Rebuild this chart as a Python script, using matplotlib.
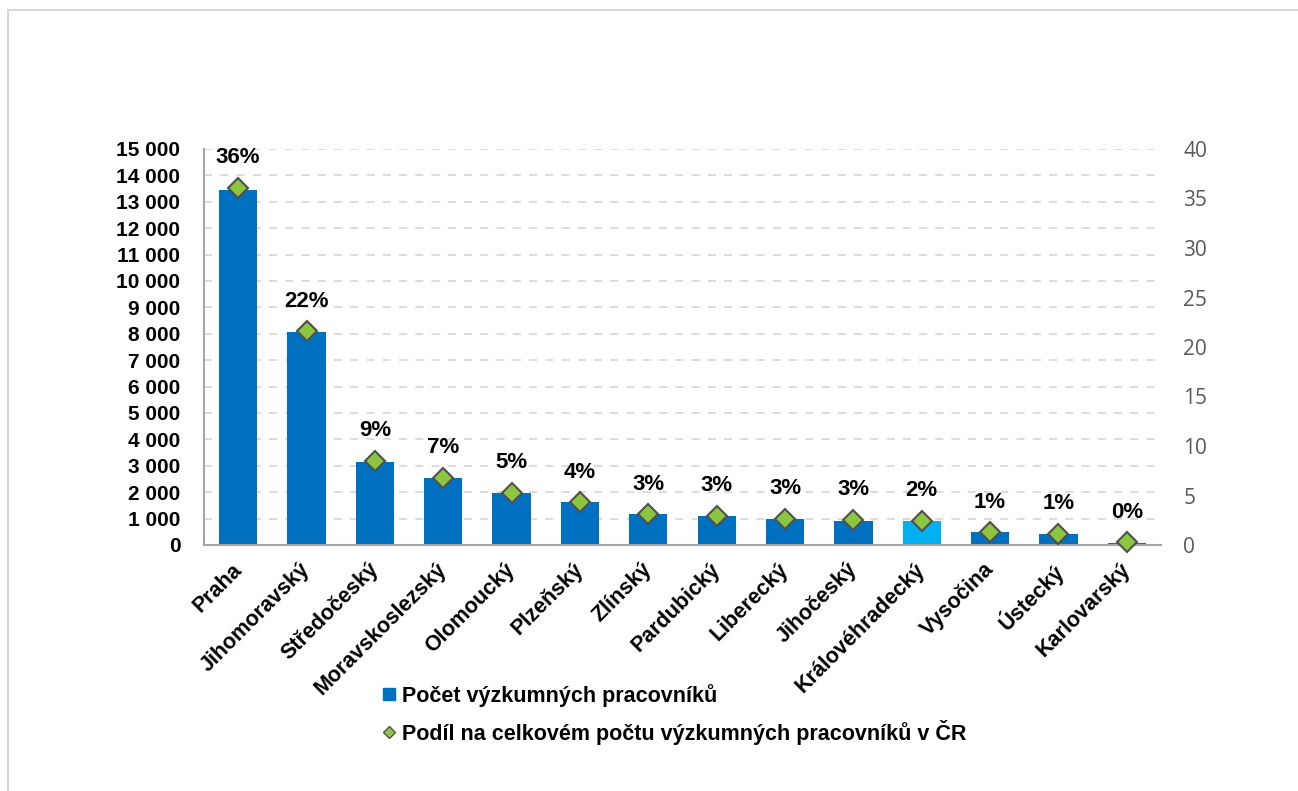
import matplotlib
matplotlib.use("Agg")
import matplotlib.pyplot as plt
from matplotlib.ticker import FuncFormatter, MultipleLocator
from matplotlib.patches import Rectangle
from matplotlib.lines import Line2D
from matplotlib.transforms import ScaledTranslation

plt.rcParams['font.family'] = ['Liberation Sans', 'DejaVu Sans']

regions = ["Praha", "Jihomoravský", "Středočeský", "Moravskoslezský", "Olomoucký",
           "Plzeňský", "Zlínský", "Pardubický", "Liberecký", "Jihočeský",
           "Královéhradecký", "Vysočina", "Ústecký", "Karlovarský"]
researchers = [13450, 8070, 3150, 2540, 1980, 1620, 1180, 1110, 990, 920, 920, 480, 420, 80]
share = [36.1, 21.6, 8.5, 6.8, 5.3, 4.3, 3.1, 2.95, 2.65, 2.55, 2.45, 1.3, 1.15, 0.27]
share_labels = ["36%", "22%", "9%", "7%", "5%", "4%", "3%", "3%", "3%", "3%", "2%", "1%", "1%", "0%"]
highlight = "Královéhradecký"
bar_legend = "Počet výzkumných pracovníků"
share_legend = "Podíl na celkovém počtu výzkumných pracovníků v ČR"

W, H = 1298, 791
fig = plt.figure(figsize=(W / 100, H / 100), dpi=100)

# outer frame
fig.patches.append(Rectangle((8 / W, -0.05), 1.2, 1 - 10 / H + 0.05, transform=fig.transFigure,
                             fill=False, edgecolor='#D9D9D9', linewidth=1.5))

ax = fig.add_axes([204 / W, 1 - 545 / H, (1161 - 204) / W, (545 - 149) / H])
x = list(range(len(regions)))
colors = ['#00B0F0' if r == highlight else '#0070C0' for r in regions]
ax.bar(x, researchers, width=0.56, color=colors, zorder=2)
ax.set_xlim(-0.5, len(regions) - 0.5)
ax.set_ylim(0, 15000)
ax.yaxis.set_major_locator(MultipleLocator(1000))
ax.yaxis.set_major_formatter(FuncFormatter(lambda v, p: f"{int(v):,}".replace(",", " ")))
ax.grid(axis='y', color='#D9D9D9', linestyle=(0, (4.5, 4.5)), linewidth=1.3, zorder=0)
ax.set_axisbelow(True)
for s in ['top', 'right']:
    ax.spines[s].set_visible(False)
ax.spines['left'].set_color('#A6A6A6')
ax.spines['bottom'].set_color('#A6A6A6')
ax.spines['left'].set_linewidth(1.5)
ax.spines['bottom'].set_linewidth(1.5)
ax.tick_params(axis='y', length=0, pad=17, labelsize=15)
ax.tick_params(axis='x', length=0, pad=10)
for lab in ax.get_yticklabels():
    lab.set_fontweight('bold')
ax.set_xticks(x)
ax.set_xticklabels(regions, rotation=45, ha='right', va='top', rotation_mode='anchor',
                   fontsize=15.5, fontweight='bold')
for lab in ax.get_xticklabels():
    lab.set_transform(lab.get_transform() + ScaledTranslation(-5 / 72, 0, fig.dpi_scale_trans))

ax2 = ax.twinx()
ax2.set_ylim(0, 40)
ax2.yaxis.set_major_locator(MultipleLocator(5))
for s in ['top', 'right', 'left', 'bottom']:
    ax2.spines[s].set_visible(False)
ax2.tick_params(axis='y', length=0, pad=16, labelsize=15, labelcolor='#595959')
for lab in ax2.get_yticklabels():
    lab.set_fontfamily(['Open Sans', 'DejaVu Sans'])
ax2.plot(x, share, linestyle='none', marker='D', markersize=10.5, markerfacecolor='#8CC63F',
         markeredgecolor='#505050', markeredgewidth=1.5, zorder=3, clip_on=False)
for xi, v, lbl in zip(x, share, share_labels):
    ax2.annotate(lbl, (xi, v), xytext=(0, 14), textcoords='offset points', ha='center', va='bottom',
                 fontsize=16, fontweight='bold', color='#000000')

handles = [Line2D([], [], linestyle='none', marker='s', markersize=8.5, markerfacecolor='#0070C0',
                  markeredgecolor='#0070C0'),
           Line2D([], [], linestyle='none', marker='D', markersize=6.5, markerfacecolor='#8CC63F',
                  markeredgecolor='#505050', markeredgewidth=1)]
leg = fig.legend(handles, [bar_legend, share_legend], loc='upper left',
                 bbox_to_anchor=(383 / W, 1 - 684 / H), frameon=False,
                 prop={'weight': 'bold', 'size': 15.5}, handlelength=0.6, handletextpad=0.3,
                 labelspacing=0.6, borderpad=0, borderaxespad=0)

fig.savefig("out.png", dpi=100, facecolor='white')
